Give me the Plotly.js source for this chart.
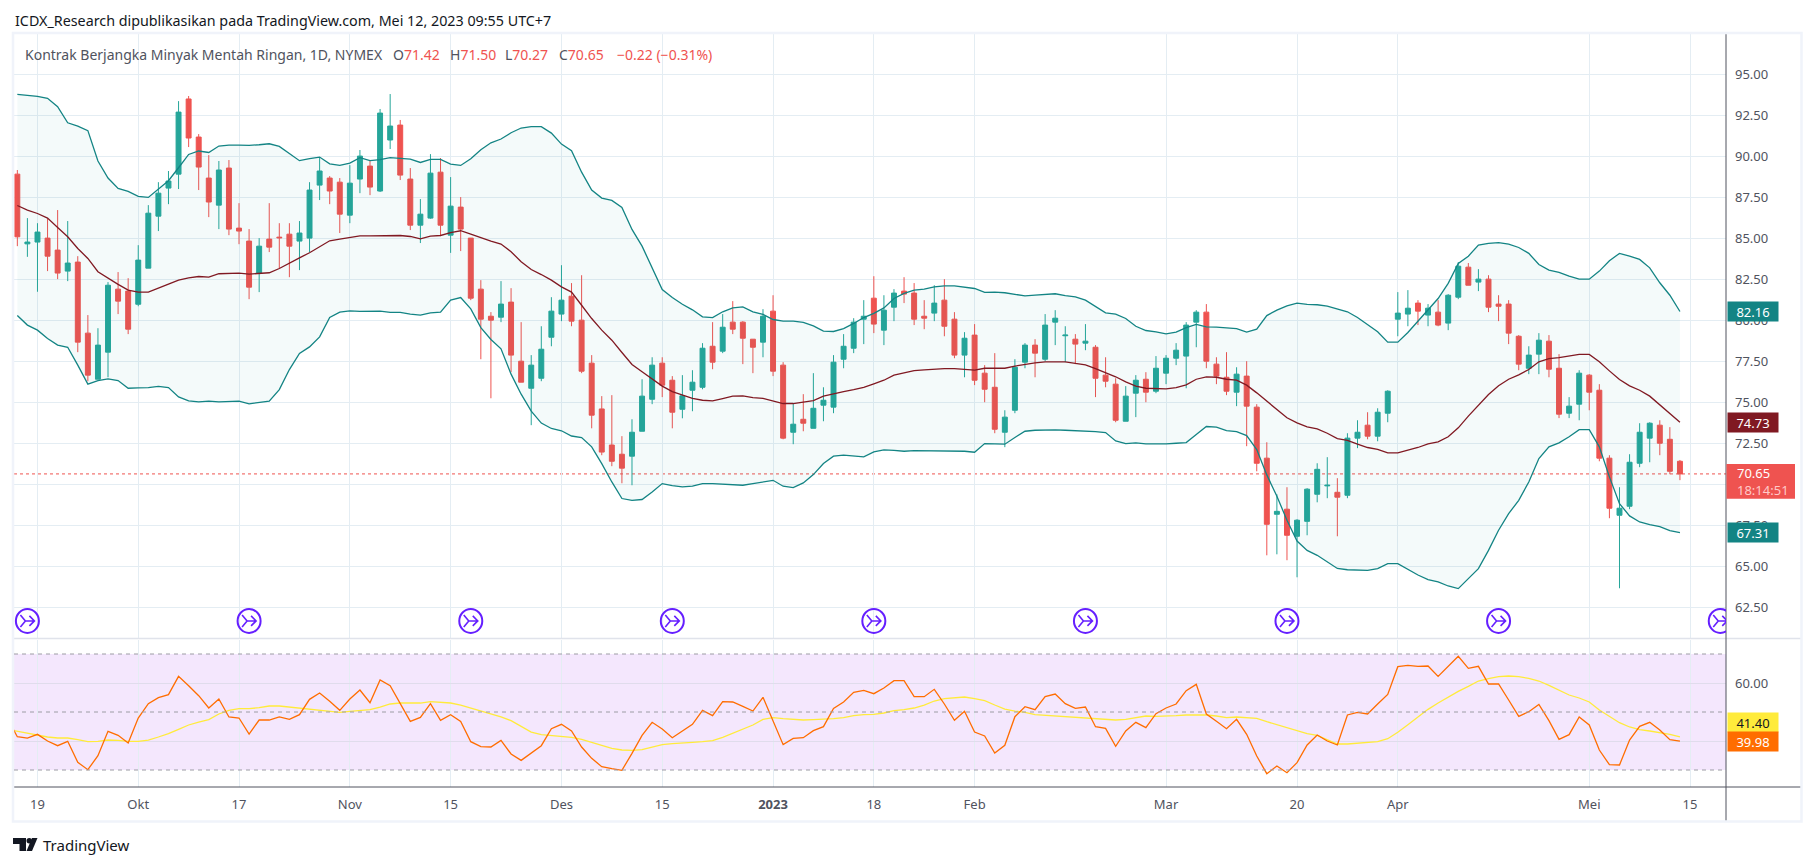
<!DOCTYPE html>
<html>
<head>
<meta charset="utf-8">
<script src="https://cdn.plot.ly/plotly-3.0.1.min.js"></script>
<style>body { margin: 0; background: #fff; }</style>
</head>
<body>
<div id="my_plot"></div>
<script>
// bars are counted from 19 Sep 2022 = 0, the first two visible bars are -2 and -1
first_bar = -2;

open_px = [
    88.92,84.67,84.78,85.02,84.29,83.01,83.56,79.23,76.42,78.07,
    81.91,81.79,80.99,83.19,86.36,88.07,88.92,93.50,91.18,88.68,
    87.03,89.29,85.63,84.84,82.89,84.96,85.08,85.26,84.84,85.02,
    88.25,88.68,88.43,86.42,88.62,89.41,87.89,91.0,91.91,88.62,
    85.81,86.24,89.04,85.20,86.91,85.02,81.91,80.26,80.2,81.12,
    77.52,75.87,76.48,78.98,80.39,81.48,80.02,77.40,74.61,72.41,
    71.85,71.73,73.25,75.20,77.40,76.36,74.59,75.75,75.93,78.43,
    78.13,79.90,79.90,78.86,78.68,80.57,77.28,73.19,73.98,73.43,
    74.84,74.72,77.64,78.31,80.08,81.36,79.41,80.81,81.79,81.67,
    80.26,80.45,81.24,80.08,77.89,79.11,76.79,75.93,73.19,74.53,
    77.46,78.50,77.64,79.90,79.07,78.86,78.62,78.37,76.67,76.12,
    73.86,75.57,76.42,75.69,76.79,77.70,77.83,79.90,80.51,77.34,
    76.54,75.63,76.61,74.72,71.61,68.19,68.50,66.85,67.76,69.41,
    69.92,69.53,69.35,72.83,73.62,72.95,74.35,80.08,80.39,81.06,
    80.33,80.51,79.84,81.42,83.25,82.34,82.52,81.0,81.0,79.04,
    77.09,77.95,78.74,77.09,74.35,74.90,76.67,75.75,71.61,68.13,
    68.68,71.30,72.83,73.62,72.76,71.42,
];

high_px = [
    89.17,86.24,85.93,86.22,86.73,86.06,83.92,80.33,79.53,82.34,
    82.95,82.58,84.59,87.03,88.43,89.11,93.37,93.68,91.36,90.08,
    89.72,89.78,87.15,85.57,85.02,87.15,85.93,85.93,86.06,88.43,
    89.90,88.80,88.68,89.47,90.39,89.72,92.89,93.80,92.22,89.29,
    87.40,90.14,89.90,88.74,87.52,85.02,82.46,80.51,82.40,81.97,
    79.9,77.89,79.65,81.42,83.37,82.28,82.76,77.89,75.39,75.45,
    72.95,73.98,76.42,77.76,77.76,76.61,76.67,76.97,78.62,79.90,
    80.39,81.18,79.96,78.86,80.69,81.54,77.46,74.94,75.51,76.79,
    75.93,77.89,79.17,80.14,81.24,82.70,81.54,81.91,82.64,82.28,
    81.24,82.15,82.52,80.51,79.29,79.78,77.28,78.01,74.53,77.64,
    78.62,78.86,80.39,80.63,79.65,79.17,79.78,78.50,77.76,76.48,
    76.0,76.67,76.85,77.83,77.89,78.62,79.90,80.63,81.0,77.76,
    78.07,77.15,77.52,74.90,72.58,69.41,69.84,67.89,69.78,71.30,
    71.67,70.39,73.13,73.92,74.41,74.65,75.75,81.73,81.85,81.24,
    81.0,81.24,81.61,83.56,83.50,83.13,82.76,81.54,81.24,79.11,
    78.43,79.23,79.11,77.95,75.33,76.97,76.73,76.12,71.79,69.84,
    71.85,73.74,73.80,73.92,73.50,71.50,
];

low_px = [
    84.53,83.88,81.75,83.01,82.52,82.40,78.07,76.30,76.42,76.54,
    80.39,79.17,80.87,83.19,85.45,87.09,88.01,90.57,87.95,86.30,
    85.57,85.20,84.65,81.30,81.73,84.17,83.19,82.64,83.07,84.17,
    87.34,87.09,85.33,85.93,87.76,87.64,87.83,90.45,88.56,85.51,
    84.72,86.20,85.14,84.12,84.23,81.24,77.64,75.26,79.9,76.85,
    76.24,73.62,76.3,78.43,79.96,79.65,76.79,73.43,71.79,71.12,
    70.08,69.96,73.25,74.90,75.33,73.43,74.04,74.47,75.81,77.03,
    78.01,79.17,77.34,76.79,77.76,76.61,72.76,72.46,73.25,73.43,
    73.86,74.35,77.09,78.01,78.56,79.23,78.50,79.96,81.06,79.72,
    79.47,79.96,79.04,77.70,76.54,76.06,75.02,73.13,72.28,74.35,
    77.09,76.54,77.52,78.50,77.46,77.34,78.19,75.33,75.93,73.80,
    73.86,74.11,75.02,75.57,76.12,77.28,75.87,78.37,77.09,76.12,
    75.45,74.78,72.34,70.81,65.69,65.75,65.39,64.35,66.91,68.92,
    69.17,66.85,69.17,72.22,72.76,72.64,73.80,79.04,79.65,79.72,
    79.65,79.65,79.41,81.30,82.15,81.79,80.51,79.96,78.56,76.97,
    76.73,76.73,76.54,74.05,74.05,73.92,74.53,71.42,67.95,63.68,
    68.50,71.06,71.36,71.79,70.63,70.27,
];

close_px = [
    85.10,84.78,85.39,83.92,82.89,83.50,78.68,76.67,78.50,82.15,
    81.18,79.47,83.68,86.54,87.76,88.50,92.70,91.12,89.35,87.22,
    89.17,85.57,85.45,82.03,84.53,84.47,85.04,84.53,85.33,87.95,
    89.11,87.89,86.48,88.37,90.02,88.13,92.64,91.85,88.86,85.81,
    86.48,88.98,85.81,86.97,85.57,81.36,80.08,80.02,81.0,77.89,
    76.24,77.28,78.25,80.57,81.24,79.96,76.91,74.23,71.98,71.42,
    71.0,73.19,75.39,77.28,76.06,74.41,75.41,76.24,78.31,77.46,
    79.59,79.47,78.92,78.37,80.26,76.91,72.83,73.68,73.74,74.65,
    75.14,77.46,78.43,79.90,80.26,79.78,80.63,81.67,81.61,80.08,
    80.14,81.06,79.65,77.89,78.92,76.36,75.81,73.37,74.11,77.15,
    78.50,78.01,79.72,80.14,79.11,78.56,78.74,76.48,76.30,73.92,
    75.39,76.36,75.63,77.09,77.70,78.19,79.72,80.51,77.52,76.61,
    75.69,76.73,74.78,71.30,67.58,68.37,66.91,67.83,69.72,70.93,
    69.96,69.23,72.83,73.19,72.95,74.41,75.69,80.45,80.75,80.57,
    80.75,79.72,81.54,83.31,82.15,82.52,80.81,80.87,79.23,77.34,
    77.89,78.80,77.03,74.29,74.78,76.79,75.63,71.61,68.56,68.56,
    71.36,73.19,73.74,72.52,70.81,70.65,
];

bb_upper = [
    93.78,93.74,93.66,93.54,93.03,92.05,91.85,91.57,89.72,88.68,
    88.05,87.87,87.56,87.5,87.99,88.52,89.31,90.12,90.33,90.24,
    90.63,90.69,90.69,90.67,90.71,90.77,90.61,90.16,89.74,89.86,
    89.96,89.55,89.45,89.59,89.92,89.74,89.80,89.92,89.88,89.84,
    89.63,89.82,89.82,89.53,89.45,89.86,90.41,90.83,91.06,91.44,
    91.73,91.81,91.81,91.42,90.75,90.35,89.04,87.95,87.46,87.32,
    86.89,85.55,84.53,83.23,81.89,81.40,80.99,80.65,80.22,80.18,
    80.53,80.77,80.83,80.53,80.37,80.06,79.96,79.96,79.88,79.67,
    79.35,79.33,79.51,79.82,80.18,80.43,80.77,81.34,81.65,81.85,
    81.91,82.05,82.11,82.11,82.03,81.95,81.71,81.73,81.69,81.59,
    81.50,81.54,81.59,81.63,81.52,81.44,81.24,80.83,80.47,80.39,
    80.12,79.65,79.39,79.31,79.19,79.29,79.57,79.76,79.61,79.59,
    79.55,79.51,79.29,79.47,80.30,80.63,80.89,81.06,80.98,80.96,
    80.87,80.69,80.53,80.18,79.76,79.31,78.68,78.68,79.27,79.96,
    80.63,81.34,82.26,83.48,83.92,84.59,84.70,84.74,84.65,84.45,
    84.09,83.41,83.07,82.93,82.70,82.52,82.52,83.01,83.64,84.09,
    83.92,83.72,83.21,82.30,81.54,80.55,
];

bb_lower = [
    80.30,79.72,79.41,78.90,78.50,78.37,77.28,76.12,76.34,76.44,
    76.34,75.87,75.89,75.91,75.98,75.91,75.34,75.10,75.04,75.08,
    75.04,75.08,75.08,74.92,75.02,75.08,75.79,77.01,77.99,78.39,
    79.0,80.18,80.51,80.59,80.55,80.55,80.57,80.49,80.49,80.39,
    80.33,80.47,80.51,81.24,81.40,80.71,79.57,78.84,78.27,76.73,
    75.51,74.48,73.75,73.42,73.28,72.96,72.87,72.30,71.28,70.16,
    69.15,69.04,69.09,69.55,70.06,69.94,69.86,69.90,70.06,70.06,
    70.02,69.98,69.96,70.06,70.16,70.26,69.90,69.82,70.10,70.61,
    71.28,71.73,71.79,71.73,71.69,71.99,72.11,72.09,72.03,72.07,
    72.07,72.05,72.03,72.03,72.03,71.97,72.50,72.48,72.46,72.87,
    73.25,73.31,73.33,73.33,73.31,73.29,73.29,73.23,73.17,72.66,
    72.50,72.54,72.48,72.46,72.48,72.52,72.56,73.05,73.54,73.50,
    73.29,73.23,72.99,72.13,70.59,69.29,67.83,66.56,65.99,65.69,
    65.28,64.89,64.81,64.77,64.77,64.88,65.18,65.18,64.84,64.49,
    64.21,64.07,63.82,63.66,64.27,64.88,65.99,67.22,68.23,69.04,
    70.16,71.59,72.30,72.54,72.91,73.35,73.35,72.30,70.47,68.84,
    68.09,67.72,67.56,67.44,67.20,67.07,
];

bb_basis = [
    87.01,86.73,86.52,86.24,85.67,85.10,84.39,83.78,82.97,82.56,
    82.20,81.85,81.73,81.73,81.99,82.22,82.46,82.60,82.68,82.64,
    82.85,82.89,82.89,82.83,82.89,82.91,83.17,83.52,83.82,84.13,
    84.49,84.86,84.96,85.08,85.16,85.16,85.16,85.18,85.18,85.12,
    84.98,85.14,85.18,85.35,85.47,85.27,85.05,84.84,84.66,84.19,
    83.58,83.11,82.80,82.46,82.05,81.73,80.93,80.12,79.41,78.80,
    78.05,77.32,76.87,76.46,76.0,75.67,75.45,75.26,75.14,75.10,
    75.24,75.39,75.41,75.30,75.26,75.12,74.94,74.94,75.02,75.12,
    75.39,75.55,75.67,75.79,75.93,76.14,76.36,76.67,76.83,76.95,
    76.99,77.05,77.07,77.07,77.01,76.97,77.09,77.09,77.09,77.22,
    77.34,77.42,77.48,77.50,77.48,77.38,77.30,77.07,76.83,76.57,
    76.26,76.0,75.87,75.83,75.83,75.91,76.08,76.42,76.57,76.54,
    76.42,76.36,76.06,75.59,75.08,74.61,74.07,73.76,73.52,73.39,
    73.13,72.80,72.70,72.46,72.26,72.15,71.93,71.93,72.09,72.26,
    72.48,72.60,72.91,73.46,74.17,74.84,75.49,76.02,76.42,76.69,
    77.01,77.48,77.68,77.74,77.83,77.93,77.93,77.48,76.93,76.40,
    76.02,75.75,75.39,74.84,74.33,73.80,
];

// rsi starts one bar earlier, that point is cut off by the pane edge
rsi_first_bar = -3;

rsi_line = [
    47.93,41.49,41.03,42.30,40.0,38.39,39.89,32.64,30.11,34.94,
    43.33,41.95,39.31,47.93,52.87,54.94,55.98,62.30,59.08,55.63,
    51.38,54.48,48.28,47.93,42.41,47.24,47.24,48.28,47.47,49.08,
    54.37,56.55,53.68,50.57,54.48,57.59,53.22,61.03,59.08,52.99,
    46.78,48.16,52.87,47.13,49.08,46.78,39.77,38.05,37.93,40.23,
    35.52,33.33,35.98,38.39,44.25,45.75,43.45,37.93,34.02,31.15,
    30.46,29.89,35.75,41.95,46.44,44.14,41.15,43.45,45.75,50.57,
    48.74,53.56,53.45,51.95,50.34,55.06,47.01,38.74,40.92,41.15,
    43.56,44.94,51.26,53.45,56.78,57.47,56.32,58.28,60.80,60.80,
    55.29,55.29,57.82,52.76,47.13,50.23,43.10,41.72,35.86,38.51,
    48.39,51.84,50.80,55.29,56.21,52.87,51.26,51.72,44.94,44.37,
    38.16,43.45,46.44,44.60,49.43,51.38,52.76,57.36,59.54,49.31,
    46.78,44.25,47.47,42.30,34.83,28.74,31.38,29.08,32.53,38.62,
    42.07,40.0,38.62,48.97,49.89,49.31,52.76,56.09,65.63,66.09,
    65.75,65.86,62.30,65.86,69.20,65.06,65.75,59.66,59.66,54.14,
    48.51,50.11,52.64,47.01,40.57,42.18,48.28,45.52,36.90,31.84,
    31.72,40.34,45.06,46.44,43.79,40.46,39.98,
];

rsi_ma = [
    44.02,43.33,42.64,42.07,41.38,41.03,41.03,40.46,39.77,39.89,
    40.34,40.23,39.89,39.89,40.34,41.38,42.53,44.02,45.52,46.55,
    47.36,49.31,50.57,51.15,51.15,51.49,52.07,52.07,51.72,51.26,
    50.92,50.46,50.11,49.89,50.23,50.57,50.80,51.72,52.76,53.10,
    53.10,53.10,53.56,53.45,53.10,52.41,51.38,50.57,49.54,48.28,
    47.01,44.94,43.10,42.18,41.84,41.72,41.26,40.57,39.54,38.28,
    37.47,36.90,36.78,37.01,37.93,38.74,39.08,39.43,39.54,39.77,
    40.11,41.26,42.76,44.14,45.52,47.47,48.05,47.70,47.47,47.24,
    47.36,47.47,47.70,48.05,48.74,49.08,49.20,49.66,50.46,50.80,
    51.38,52.41,53.79,54.60,54.83,55.17,54.60,53.91,52.41,51.03,
    50.34,49.89,49.08,48.85,48.85,48.51,48.28,48.16,47.93,47.59,
    47.24,47.47,48.16,48.62,48.51,48.51,48.74,48.97,49.08,48.97,
    48.62,48.05,48.28,48.16,47.82,46.67,45.63,44.48,43.33,42.53,
    41.95,40.57,38.97,38.97,39.20,39.54,39.77,40.80,42.99,45.63,
    48.16,50.92,53.10,55.17,57.13,58.85,60.69,61.49,62.18,62.41,
    62.18,61.61,60.69,59.20,57.47,55.86,54.83,53.45,50.69,48.39,
    46.32,44.83,43.91,43.45,42.99,42.30,41.40,
];

price_ticks = [62.5,65,67.5,70,72.5,75,77.5,80,82.5,85,87.5,90,92.5,95];
// 70.00 sits completely under the last price tag, so it has no text
price_labels = ["62.50","65.00","67.50","","72.50","75.00","77.50","80.00","82.50","85.00","87.50","90.00","92.50","95.00"];
rsi_ticks = [40,60];
rsi_labels = ["","60.00"];
rsi_levels = [70,50,30];
time_ticks = [0,10,20,31,41,52,62,73,83,93,112,125,135,154,164];
time_labels = ["19","Okt","17","Nov","15","Des","15","<b>2023</b>","18","Feb","Mar","20","Apr","Mei","15"];

// the purple "idea" circles along the bottom of the price pane
idea_bars = [-1,21,43,63,83,104,124,145,167];
idea_price = 61.69;

upper_tag = "82.16";
basis_tag = "74.73";
lower_tag = "67.31";
price_tag = "70.65";
countdown = "18:14:51";
ma_tag = "41.40";
rsi_tag = "39.98";

header_text = "ICDX_Research dipublikasikan pada TradingView.com, Mei 12, 2023 09:55 UTC+7";
symbol_text = "Kontrak Berjangka Minyak Mentah Ringan, 1D, NYMEX";
ohlc_names = ["O","H","L","C"];
ohlc_values = ["71.42","71.50","70.27","70.65"];
ohlc_left = [391,447.5,503,557];
change_text = "\u22120.22 (\u22120.31%)";


W = 1814;
H = 866;
FONT = "Noto Sans";
GREY = "#50535e";
RED = "#ef5350";
GREEN = "#26a69a";
TEAL = "#138484";
MAROON = "#801922";
GRID = "#e4edf3";

function px(x) { return x / W; }
function py(y) { return 1 - y / H; }

function bar_numbers(start, n) {
    var out = [];
    for (var i = 0; i < n; i++) {
        out.push(start + i);
    }
    return out;
}

function label(x, y, text, size, color, anchor) {
    return {
        xref: "paper", yref: "paper", x: px(x), y: py(y),
        text: text, showarrow: false,
        xanchor: anchor || "left", yanchor: "middle",
        font: {family: FONT, size: size, color: color},
    };
}

function value_tag(yref, y, text, bg, fg, yshift) {
    return {
        xref: "paper", yref: yref, x: px(1726.5), y: y, yshift: yshift || 0,
        text: text, showarrow: false,
        xanchor: "left", yanchor: "middle",
        width: 50, height: 19, borderpad: 0, bgcolor: bg,
        font: {family: FONT, size: 13, color: fg},
    };
}

function line_shape(x0, y0, x1, y1, color, width) {
    return {
        type: "line", xref: "paper", yref: "paper", layer: "above",
        x0: px(x0), y0: py(y0), x1: px(x1), y1: py(y1),
        line: {color: color, width: width},
    };
}

function make_plot() {
    var bars = bar_numbers(first_bar, close_px.length);
    var rsi_bars = bar_numbers(rsi_first_bar, rsi_line.length);

    var data = [
        {
            name: "lower", type: "scatter", mode: "lines", x: bars, y: bb_lower,
            line: {color: TEAL, width: 1.3}, hoverinfo: "skip",
        },
        {
            name: "upper", type: "scatter", mode: "lines", x: bars, y: bb_upper,
            line: {color: TEAL, width: 1.3}, hoverinfo: "skip",
            fill: "tonexty", fillcolor: "rgba(0,128,128,0.045)",
        },
        {
            name: "price", type: "candlestick", x: bars,
            open: open_px, high: high_px, low: low_px, close: close_px,
            whiskerwidth: 0,
            increasing: {line: {color: GREEN, width: 1}, fillcolor: GREEN},
            decreasing: {line: {color: RED, width: 1}, fillcolor: RED},
            hoverinfo: "skip",
        },
        {
            name: "basis", type: "scatter", mode: "lines", x: bars, y: bb_basis,
            line: {color: MAROON, width: 1.3}, hoverinfo: "skip",
        },
        {
            name: "rsi ma", type: "scatter", mode: "lines", x: rsi_bars, y: rsi_ma,
            xaxis: "x2", yaxis: "y2",
            line: {color: "#ffeb3b", width: 1.3}, hoverinfo: "skip",
        },
        {
            name: "rsi", type: "scatter", mode: "lines", x: rsi_bars, y: rsi_line,
            xaxis: "x2", yaxis: "y2",
            line: {color: "#ff6d00", width: 1.3}, hoverinfo: "skip",
        },
    ];

    var shapes = [
        // rsi band and levels
        {
            type: "rect", xref: "x2", yref: "y2", layer: "below",
            x0: -2.33, x1: 167.57, y0: rsi_levels[2], y1: rsi_levels[0],
            fillcolor: "#f4e7fd", line: {width: 0},
        },
        // current price
        {
            type: "line", xref: "x", yref: "y", layer: "below",
            x0: -2.33, x1: 167.57, y0: close_px[close_px.length - 1], y1: close_px[close_px.length - 1],
            line: {color: RED, width: 1, dash: "dot"},
        },
        // pane separators and frame
        line_shape(14, 638.5, 1801, 638.5, "#e0e3eb", 1.5),
        line_shape(14, 787, 1801, 787, GREY, 1),
        line_shape(1726, 34, 1726, 821, GREY, 1),
        {
            type: "rect", xref: "paper", yref: "paper", layer: "above",
            x0: px(13), x1: px(1801.5), y0: py(821.5), y1: py(33),
            line: {color: "#f0f3fa", width: 2.5},
        },
        // price tag behind the two text rows
        {
            type: "rect", xref: "paper", yref: "y", layer: "above",
            ysizemode: "pixel", yanchor: close_px[close_px.length - 1],
            x0: px(1726.5), x1: px(1795), y0: -24.8, y1: 9.9,
            fillcolor: RED, line: {width: 0},
        },
        // TradingView mark
        {
            type: "path", xref: "paper", yref: "paper", layer: "above",
            path: "M" + px(13) + "," + py(838) + " L" + px(26) + "," + py(838) + " L" + px(26) + "," + py(851) +
                " L" + px(19.5) + "," + py(851) + " L" + px(19.5) + "," + py(844) + " L" + px(13) + "," + py(844) + " Z",
            fillcolor: "#131722", line: {width: 0},
        },
        {
            type: "circle", xref: "paper", yref: "paper", layer: "above",
            x0: px(26.5), x1: px(32), y0: py(843.5), y1: py(838),
            fillcolor: "#131722", line: {width: 0},
        },
        {
            type: "path", xref: "paper", yref: "paper", layer: "above",
            path: "M" + px(32) + "," + py(838) + " L" + px(37.5) + "," + py(838) + " L" + px(32) + "," + py(851) +
                " L" + px(26.5) + "," + py(851) + " Z",
            fillcolor: "#131722", line: {width: 0},
        },
    ];

    rsi_levels.forEach(function (lvl) {
        shapes.push({
            type: "line", xref: "x2", yref: "y2", layer: "above",
            x0: -2.33, x1: 167.57, y0: lvl, y1: lvl,
            line: {color: "#9c9ca4", width: 1, dash: "4px,4px"},
        });
    });

    idea_bars.forEach(function (b) {
        shapes.push({
            type: "circle", xref: "x", yref: "y", layer: "above",
            xsizemode: "pixel", ysizemode: "pixel", xanchor: b, yanchor: idea_price,
            x0: -11.5, x1: 11.5, y0: -12, y1: 12,
            line: {color: "#651fff", width: 2},
        });
        shapes.push({
            type: "path", xref: "x", yref: "y", layer: "above",
            xsizemode: "pixel", ysizemode: "pixel", xanchor: b, yanchor: idea_price,
            path: "M-7,6 L-2,0 L-7,-6 M-2,0 L7,0 M2,5 L7,0 L2,-5",
            line: {color: "#651fff", width: 1.6},
        });
    });

    var annotations = [
        label(13, 20, header_text, 14.3, "#131722"),
        label(23, 54, symbol_text, 14, GREY),
        label(615, 54, change_text, 14, RED),
        label(41, 845, "TradingView", 15, "#131722"),
        value_tag("y", bb_upper[bb_upper.length - 1], upper_tag, TEAL, "#ffffff"),
        value_tag("y", bb_basis[bb_basis.length - 1], basis_tag, MAROON, "#ffffff"),
        value_tag("y", bb_lower[bb_lower.length - 1], lower_tag, TEAL, "#ffffff"),
        value_tag("y2", rsi_ma[rsi_ma.length - 1], ma_tag, "#ffeb3b", "#131722", 14.5),
        value_tag("y2", rsi_line[rsi_line.length - 1], rsi_tag, "#ff6d00", "#ffffff", -0.5),
        {
            xref: "paper", yref: "y", x: px(1735), y: close_px[close_px.length - 1], yshift: -7.5,
            text: price_tag + "<br><span style='color:#ffc9c8'>" + countdown + "</span>",
            showarrow: false, xanchor: "left", yanchor: "middle", align: "left",
            font: {family: FONT, size: 13, color: "#ffffff"},
        },
    ];

    for (var i = 0; i < ohlc_names.length; i++) {
        annotations.push(label(ohlc_left[i], 54,
            ohlc_names[i] + "<span style='color:" + RED + "'>" + ohlc_values[i] + "</span>", 14, GREY));
    }

    var common_x = {
        range: [-2.33, 167.57],
        domain: [px(14), px(1726)],
        tickmode: "array",
        tickvals: time_ticks,
        ticktext: time_labels,
        showgrid: true,
        gridcolor: GRID,
        gridwidth: 1,
        zeroline: false,
        showline: false,
        ticks: "",
        fixedrange: true,
    };

    var layout = {
        width: W,
        height: H,
        autosize: false,
        margin: {l: 0, r: 0, t: 0, b: 0},
        paper_bgcolor: "#ffffff",
        plot_bgcolor: "#ffffff",
        showlegend: false,
        hovermode: false,
        font: {family: FONT, size: 13, color: GREY},
        xaxis: Object.assign({}, common_x, {
            anchor: "y",
            showticklabels: false,
            rangeslider: {visible: false},
        }),
        xaxis2: Object.assign({}, common_x, {
            anchor: "y2",
            showticklabels: true,
            ticklabelstandoff: 8,
            tickfont: {family: FONT, size: 13, color: GREY},
        }),
        yaxis: {
            anchor: "x",
            side: "right",
            range: [60.65, 97.46],
            domain: [py(638), py(34)],
            tickmode: "array",
            tickvals: price_ticks,
            ticktext: price_labels,
            showgrid: true,
            gridcolor: GRID,
            zeroline: false,
            ticks: "",
            ticklabelstandoff: 8,
            tickfont: {family: FONT, size: 13, color: GREY},
            fixedrange: true,
        },
        yaxis2: {
            anchor: "x2",
            side: "right",
            range: [24.14, 74.83],
            domain: [py(787), py(640)],
            tickmode: "array",
            tickvals: rsi_ticks,
            ticktext: rsi_labels,
            showgrid: true,
            gridcolor: "#e0dcec",
            zeroline: false,
            ticks: "",
            ticklabelstandoff: 8,
            tickfont: {family: FONT, size: 13, color: GREY},
            fixedrange: true,
        },
        shapes: shapes,
        annotations: annotations,
    };

    Plotly.newPlot("my_plot", data, layout, {displayModeBar: false, staticPlot: true});
}

make_plot();
</script>
</body>
</html>
